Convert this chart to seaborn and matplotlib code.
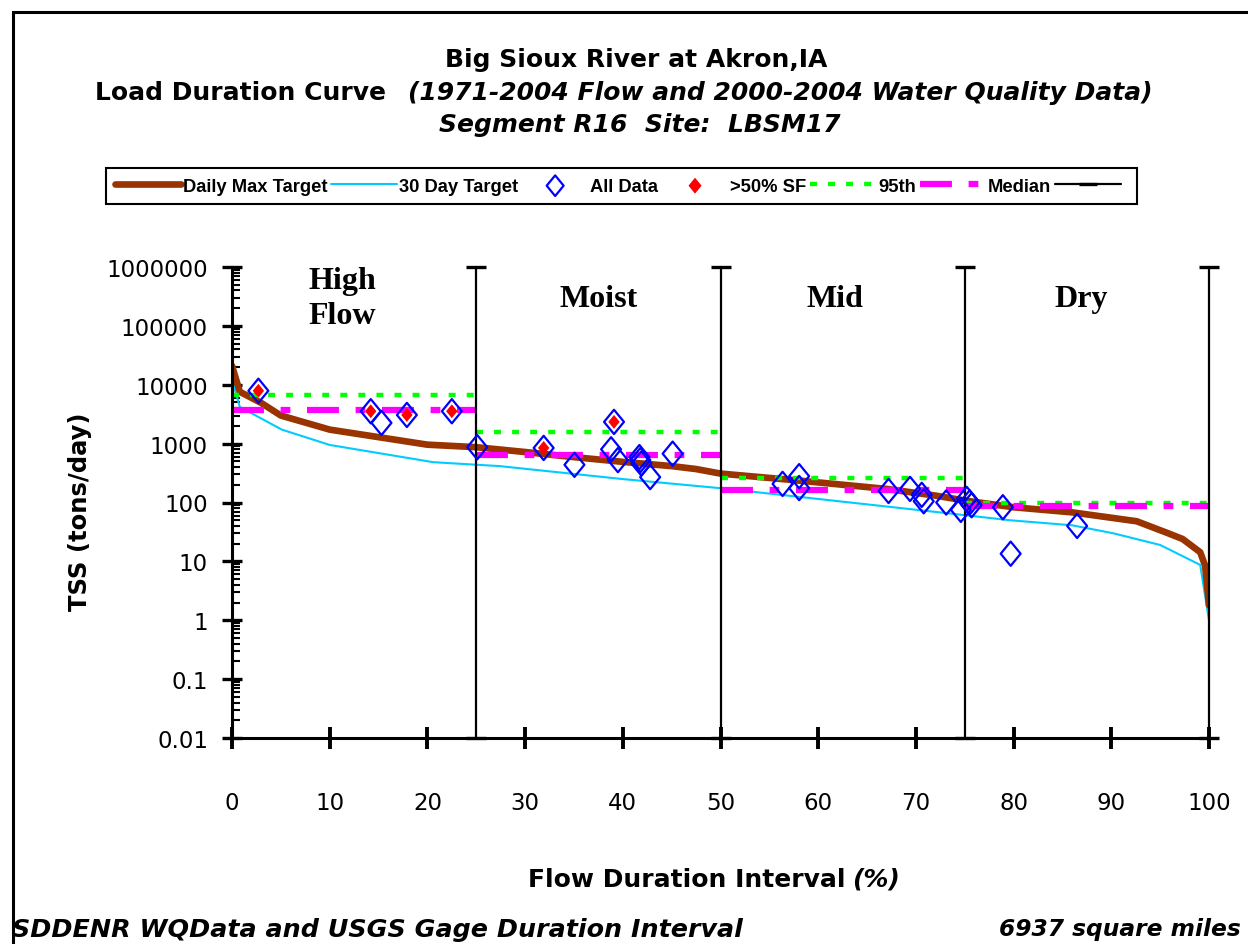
import numpy as np
import matplotlib
matplotlib.use("Agg")
import matplotlib.pyplot as plt
import seaborn as sns
from matplotlib.path import Path
from matplotlib.patches import Rectangle
from matplotlib.ticker import FixedLocator, LogLocator, NullFormatter

# ---- data -------------------------------------------------------------
# Daily maximum TSS load target (tons/day) along the flow duration curve (%)
daily_max_x = [0, 0.8, 3, 5, 10, 20, 25, 30, 35, 40, 45, 47.5, 50, 58, 67, 72,
               75, 80, 86, 92.6, 95.6, 97.3, 99.1, 99.6, 100]
daily_max_y = [21000, 7600, 4900, 3000, 1730, 960, 870, 720, 590, 490, 415, 370,
               310, 236, 170, 131, 108, 83, 68, 48, 31, 24, 14.3, 8.5, 1.8]

# 30-day TSS load target (tons/day)
target30_x = [0, 0.8, 5.1, 10, 20.6, 27.4, 40, 50, 73.5, 79.6, 86, 90.2, 95,
              99.1, 100]
target30_y = [12300, 4200, 1730, 950, 484, 415, 250, 175, 65, 50, 41, 30, 19,
              8.7, 1.0]

# Observed TSS loads (tons/day) at their flow duration interval (%)
all_x = [2.7, 14.2, 15.3, 17.9, 22.5, 25.1, 31.9, 35.05, 38.8, 39.1, 39.5,
         41.7, 41.8, 41.9, 42.8, 45.1, 56.35, 58.05, 58.05, 67.2, 69.4, 70.6,
         70.8, 73.1, 74.6, 75.2, 75.5, 75.7, 78.9, 79.7, 86.5]
all_y = [7900, 3550, 2250, 3070, 3550, 870, 845, 437, 800, 2340, 525,
         590, 525, 460, 270, 675, 207, 280, 176, 157, 170, 135,
         105, 100, 75, 115, 100, 90, 83, 13.5, 40]

# Samples taken while streamflow exceeded 50% of the seasonal flow
sf_x = [2.7, 14.2, 17.9, 22.5, 31.9, 39.1]
sf_y = [7900, 3550, 3070, 3550, 845, 2340]

# Flow zones and per-zone statistics of the observed loads
zone_edges = [0, 25, 50, 75, 100]
zone_names = ["High\nFlow", "Moist", "Mid", "Dry"]
zone_label_x = [11.3, 37.5, 61.7, 86.9]
p95_by_zone = [6800, 1600, 262, 100]
median_by_zone = [3660, 650, 160, 86]

y_ticks = [0.01, 0.1, 1, 10, 100, 1000, 10000, 100000, 1000000]
y_tick_labels = ["0.01", "0.1", "1", "10", "100", "1000", "10000", "100000",
                 "1000000"]
x_ticks = [0, 10, 20, 30, 40, 50, 60, 70, 80, 90, 100]

# ---- style ------------------------------------------------------------
sns.set_style("white")
plt.rcParams["font.family"] = ["DejaVu Sans"]
plt.rcParams["lines.scale_dashes"] = False
for key in ["text.color", "axes.labelcolor", "xtick.color", "ytick.color"]:
    plt.rcParams[key] = "black"

W, H = 1248, 945
fig = plt.figure(figsize=(W / 100, H / 100), dpi=100)
fig.patch.set_facecolor("white")

left, right, top, bottom = 232, 1209, 268, 739
ax = fig.add_axes([left / W, 1 - bottom / H, (right - left) / W, (bottom - top) / H])
ax.set_facecolor("white")
ax.set_yscale("log")
ax.set_xlim(0, 100)
ax.set_ylim(0.01, 1e6)

# step lines for the per-zone 95th percentile and median
def zone_steps(values):
    xs, ys = [], []
    for i, v in enumerate(values):
        xs += [zone_edges[i], zone_edges[i + 1], np.nan]
        ys += [v, v, np.nan]
    return xs, ys

sns.lineplot(x=target30_x, y=target30_y, sort=False, estimator=None,
             color="#00CCFF", linewidth=1.5, ax=ax, label="30 Day Target", zorder=2)
sns.lineplot(x=daily_max_x, y=daily_max_y, sort=False, estimator=None,
             color="#993300", linewidth=4.8, ax=ax, label="Daily Max Target", zorder=3)

p95_x, p95_y = zone_steps(p95_by_zone)
med_x, med_y = zone_steps(median_by_zone)
ax.plot(p95_x, p95_y, color="#00FF00", linewidth=3.2,
        linestyle=(0, (5, 8)), label="95th", zorder=4)
ax.plot(med_x, med_y, color="#FF00FF", linewidth=4.5,
        linestyle=(0, (23, 12, 7, 12)), label="Median", zorder=4)

# zone boundaries with end caps
bx, by = [], []
for e in zone_edges[1:]:
    bx += [e, e, np.nan]
    by += [0.01, 1e6, np.nan]
ax.plot(bx, by, color="black", linewidth=1.6, marker="_", markersize=15,
        markeredgewidth=2.4, label=" ", zorder=5, clip_on=False)

diamond = Path([(0, 1), (0.82, 0), (0, -1), (-0.82, 0), (0, 1)],
               [Path.MOVETO, Path.LINETO, Path.LINETO, Path.LINETO, Path.CLOSEPOLY])

sns.scatterplot(x=all_x, y=all_y, marker=diamond, s=17.5 ** 2,
                facecolor="none", edgecolor="#0000FF", linewidth=1.6,
                ax=ax, label="All Data", zorder=7)
sns.scatterplot(x=sf_x, y=sf_y, marker=diamond, s=10 ** 2,
                color="#FF0000", edgecolor="none", linewidth=0,
                ax=ax, label=">50% SF", zorder=6)

# ---- axes -------------------------------------------------------------
for side in ["top", "right"]:
    ax.spines[side].set_visible(False)
for side in ["left", "bottom"]:
    ax.spines[side].set_color("black")
    ax.spines[side].set_linewidth(2.2)
    ax.spines[side].set_zorder(8)

ax.yaxis.set_major_locator(FixedLocator(y_ticks))
ax.set_yticklabels(y_tick_labels)
ax.yaxis.set_minor_locator(LogLocator(base=10, subs=np.arange(2, 10), numticks=20))
ax.yaxis.set_minor_formatter(NullFormatter())
ax.set_xticks(x_ticks)
ax.set_xticklabels([str(v) for v in x_ticks])

ax.tick_params(axis="y", which="major", direction="inout", length=14.5, width=2.4,
               color="black", labelsize=16.5, pad=10, left=True)
ax.tick_params(axis="y", which="minor", direction="in", length=6, width=1.5,
               color="black", left=True)
ax.tick_params(axis="x", which="major", direction="inout", length=16.5, width=2.8,
               color="black", labelsize=16.5, pad=30, bottom=True)
ax.grid(False)

# zone names
for name, zx in zip(zone_names, zone_label_x):
    ax.text(zx, 0.934, name, transform=ax.get_xaxis_transform(),
            ha="center", va="center", fontsize=23, fontweight="bold",
            family=["Liberation Serif", "DejaVu Serif"], linespacing=1.25,
            color="black")

# ---- legend -----------------------------------------------------------
handles, labels = ax.get_legend_handles_labels()
if ax.get_legend() is not None:
    ax.get_legend().remove()
order = ["Daily Max Target", "30 Day Target", "All Data", ">50% SF", "95th",
         "Median", " "]
lookup = dict(zip(labels, handles))
leg = fig.legend([lookup[k] for k in order], order, ncol=7, loc="center",
                 bbox_to_anchor=(621.5 / W, 1 - 187 / H),
                 prop={"family": ["Liberation Sans", "DejaVu Sans"],
                       "weight": "bold", "size": 13.2},
                 handlelength=3.6, handletextpad=0.12, columnspacing=0.2,
                 borderpad=0.5, borderaxespad=0, markerscale=0.85,
                 fancybox=False, framealpha=1, edgecolor="black",
                 scatterpoints=1, numpoints=1)
leg.get_frame().set_linewidth(1.5)
# the filled key marker reads better a little larger than the scaled one
leg.legend_handles[3].set_sizes([11.5 ** 2])

# ---- titles and captions -----------------------------------------------
tfont = {"fontsize": 18, "fontweight": "bold", "color": "black"}
fig.text(636 / W, 1 - 60 / H, "Big Sioux River at Akron,IA", ha="center",
         va="center", **tfont)
fig.text(386 / W, 1 - 93 / H, "Load Duration Curve", ha="right", va="center",
         **tfont)
fig.text(408 / W, 1 - 93 / H,
         "(1971-2004 Flow and 2000-2004 Water Quality Data)", ha="left",
         va="center", style="italic", **tfont)
fig.text(640 / W, 1 - 125 / H, "Segment R16  Site:  LBSM17", ha="center",
         va="center", style="italic", **tfont)

fig.text(80 / W, 1 - 512 / H, "TSS (tons/day)", rotation=90, ha="center",
         va="center", fontsize=17.5, fontweight="bold", color="black")

fig.text(846 / W, 1 - 880 / H, "Flow Duration Interval", ha="right",
         va="center", **tfont)
fig.text(852 / W, 1 - 880 / H, "(%)", ha="left", va="center",
         style="italic", **tfont)

ffont = {"fontweight": "bold", "style": "italic", "color": "black"}
fig.text(12 / W, 1 - 930 / H, "SDDENR WQData and USGS Gage Duration Interval",
         ha="left", va="center", fontsize=18.3, **ffont)
fig.text(1241 / W, 1 - 930 / H, "6937 square miles", ha="right", va="center",
         fontsize=16.8, **ffont)

# outer frame
fig.add_artist(Rectangle((13 / W, -0.05), 1.2, 1 - 13 / H + 0.05,
                         transform=fig.transFigure, fill=False,
                         edgecolor="black", linewidth=2.2))

fig.savefig("out.png", dpi=100, facecolor="white")
